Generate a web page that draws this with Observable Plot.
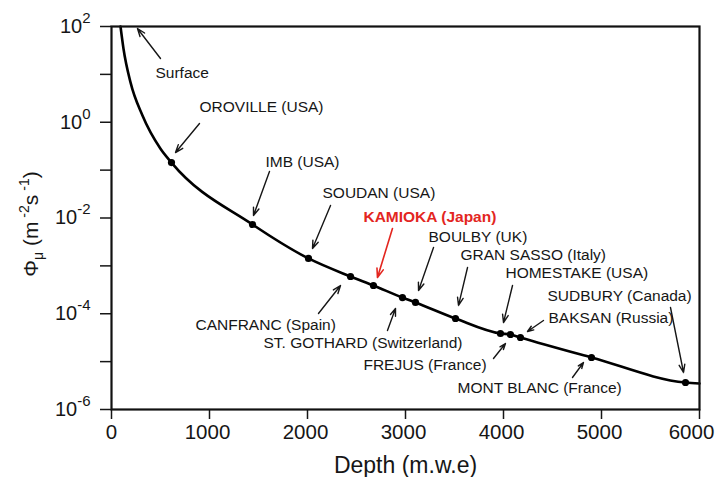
<!DOCTYPE html>
<html><head><meta charset="utf-8">
<script src="https://cdn.jsdelivr.net/npm/d3@7"></script>
<script src="https://cdn.jsdelivr.net/npm/@observablehq/plot@0.6"></script>
<style>body{margin:0;background:#fff}</style>
</head><body><div id="chart"></div>
<script>
// Muon flux curve (depth in m.w.e, flux in m^-2 s^-1)
const curveDepth = [92, 122, 194, 316, 500, 612, 1439, 2010, 2439, 2673, 2969, 3102, 3510, 3969, 4071, 4173, 4898, 5857, 6000];
const curveFlux  = [100, 34.8, 6.8, 1.38, 0.28, 0.144, 7.31e-3, 1.43e-3, 6.0e-4, 3.89e-4, 2.18e-4, 1.72e-4, 7.96e-5, 3.87e-5, 3.69e-5, 3.19e-5, 1.22e-5, 3.66e-6, 3.49e-6];

// Laboratories (dots on the curve)
const labDepth = [612, 1439, 2010, 2439, 2673, 2969, 3102, 3510, 3969, 4071, 4173, 4898, 5857];
const labFlux  = [0.144, 7.31e-3, 1.43e-3, 6.0e-4, 3.89e-4, 2.18e-4, 1.72e-4, 7.96e-5, 3.87e-5, 3.69e-5, 3.19e-5, 1.22e-5, 3.66e-6];

// Annotations: label text, label anchor, arrow tail and head (data units)
const annName  = ["Surface", "OROVILLE (USA)", "IMB (USA)", "SOUDAN (USA)", "KAMIOKA (Japan)", "BOULBY (UK)", "GRAN SASSO (Italy)", "HOMESTAKE (USA)", "SUDBURY (Canada)", "BAKSAN (Russia)", "MONT BLANC (France)", "FREJUS (France)", "ST. GOTHARD (Switzerland)", "CANFRANC (Spain)"];
const annLabelX = [449, 898, 1571, 2153, 2571, 3235, 3561, 4020, 4449, 4459, 3531, 2571, 1551, 857];
const annLabelY = [10.9, 2.03, 0.151, 0.0325, 0.01023, 3.92e-3, 1.65e-3, 6.93e-4, 2.40e-4, 7.96e-5, 2.75e-6, 8.3e-6, 2.39e-5, 5.69e-5];
const annTailX = [500, 898, 1612, 2235, 2867, 3286, 3633, 4092, 5704, 4408, 4704, 3898, 2816, 2112];
const annTailY = [21.5, 0.942, 0.0936, 0.01824, 0.00604, 2.42e-3, 9.25e-4, 3.89e-4, 1.35e-4, 7.23e-5, 4.66e-6, 1.16e-5, 4.47e-5, 1.01e-4];
const annHeadX = [265, 653, 1449, 2051, 2714, 3133, 3541, 4000, 5837, 4245, 4816, 4020, 2898, 2337];
const annHeadY = [90.8, 0.233, 0.01127, 0.002307, 5.71e-4, 3.06e-4, 1.49e-4, 6.56e-5, 5.93e-6, 4.26e-5, 9.6e-6, 2.39e-5, 1.29e-4, 3.89e-4];
const highlight = "KAMIOKA (Japan)";

const xTicks = [0, 1000, 2000, 3000, 4000, 5000, 6000];
const yTicks = [1e2, 1e1, 1e0, 1e-1, 1e-2, 1e-3, 1e-4, 1e-5, 1e-6];
const xLabel = "Depth (m.w.e)";
const Y_PLACEHOLDER = "__YLABEL__";

const curve = curveDepth.map((d, i) => ({depth: d, flux: curveFlux[i]}));
const labs = labDepth.map((d, i) => ({depth: d, flux: labFlux[i]}));
const ann = annName.map((n, i) => ({name: n, lx: annLabelX[i], ly: annLabelY[i], tx: annTailX[i], ty: annTailY[i], hx: annHeadX[i], hy: annHeadY[i]}));
const annPlain = ann.filter(d => d.name !== highlight);
const annHi = ann.filter(d => d.name === highlight);

const red = "#e3261f";
const ink = "#161616";

const chart = Plot.plot({
  width: 719, height: 477,
  marginLeft: 111, marginRight: 20, marginTop: 26, marginBottom: 68,
  style: {fontFamily: "'Liberation Sans', Arial, sans-serif", background: "#fff", color: ink},
  x: {domain: [0, 6000]},
  y: {type: "log", domain: [1e-6, 1e2]},
  marks: [
    Plot.axisX({ticks: xTicks, tickSize: 10, tickPadding: 5, fontSize: 20.5, label: null, strokeWidth: 1.5, tickFormat: d => String(d)}),
    Plot.axisY({ticks: yTicks, tickSize: 11, tickPadding: 10, fontSize: 20, label: null, strokeWidth: 1.5,
      tickFormat: d => { const e = Math.round(Math.log10(d)); return e % 2 === 0 ? "10^" + e : ""; }}),
    Plot.line(curve, {x: "depth", y: "flux", curve: "monotone-x", stroke: "#000", strokeWidth: 2.6}),
    Plot.dot(labs, {x: "depth", y: "flux", r: 3.6, fill: "#000"}),
    Plot.arrow(annPlain, {x1: "tx", y1: "ty", x2: "hx", y2: "hy", stroke: ink, strokeWidth: 1.4, headLength: 9, headAngle: 40}),
    Plot.arrow(annHi, {x1: "tx", y1: "ty", x2: "hx", y2: "hy", stroke: red, strokeWidth: 1.6, headLength: 9, headAngle: 40}),
    Plot.text(annPlain, {x: "lx", y: "ly", text: "name", textAnchor: "start", fontSize: 15.5, fill: ink}),
    Plot.text(annHi, {x: "lx", y: "ly", text: "name", textAnchor: "start", fontSize: 15.5, fill: red, fontWeight: "bold"}),
    Plot.frame({stroke: "#111", strokeWidth: 2.2}),
    Plot.text([xLabel], {frameAnchor: "bottom", textAnchor: "middle", lineAnchor: "middle", dy: 56, fontSize: 23, fill: ink}),
    Plot.text([Y_PLACEHOLDER], {frameAnchor: "left", textAnchor: "middle", lineAnchor: "middle", dx: -80, dy: 6, rotate: -90, fontSize: 21, fill: ink})
  ]
});

// superscript exponents on the y tick labels
d3.select(chart).selectAll('g[aria-label="y-axis tick label"] text').each(function () {
  const t = this.textContent;
  if (!t.startsWith("10^")) return;
  const e = t.slice(3);
  const s = d3.select(this); s.text("");
  s.append("tspan").text("10");
  s.append("tspan").attr("dy", -10).attr("font-size", 15).text(e);
});
// nudge x tick labels slightly left like the reference (last one more)
const xl = d3.select(chart).selectAll('g[aria-label="x-axis tick label"] text').nodes();
xl.forEach((n, i) => { if (i > 0) d3.select(n).attr("dx", i === xl.length - 1 ? -8 : -2); });
// y axis title with sub/superscripts
d3.select(chart).selectAll("text").filter(function () { return this.textContent === Y_PLACEHOLDER; }).each(function () {
  const s = d3.select(this); s.text("");
  s.append("tspan").text("Φ");
  s.append("tspan").attr("dy", 5).attr("font-size", 14).text("μ");
  s.append("tspan").attr("dy", -5).text(" (m");
  s.append("tspan").attr("dy", -9).attr("font-size", 14).text(" -2");
  s.append("tspan").attr("dy", 9).text("s");
  s.append("tspan").attr("dy", -9).attr("font-size", 14).text(" -1");
  s.append("tspan").attr("dy", 9).text(")");
});

document.getElementById("chart").appendChild(chart);
</script>
</body></html>
